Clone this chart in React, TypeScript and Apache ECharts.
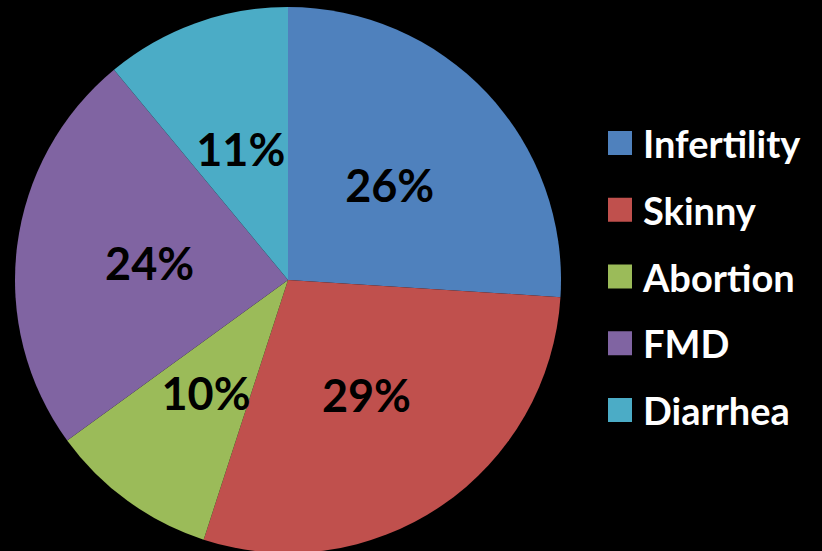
import React, { useEffect, useRef } from "react";
import * as echarts from "echarts";

const categories = ["Infertility", "Skinny", "Abortion", "FMD", "Diarrhea"];
const values = [26, 29, 10, 24, 11];
const colors = ["#4F81BD", "#C0504D", "#9BBB59", "#8064A2", "#4BACC6"];

export default function App() {
  const ref = useRef<HTMLDivElement>(null);
  useEffect(() => {
    document.body.style.margin = "0";
    document.body.style.background = "#000";
    const chart = echarts.init(ref.current!, null, { renderer: "svg" });
    chart.setOption({
      animation: false,
      backgroundColor: "#000000",
      color: colors,
      legend: {
        orient: "vertical",
        left: 608,
        top: 124,
        padding: 0,
        itemWidth: 24,
        itemHeight: 24,
        itemGap: 28.75,
        icon: "rect",
        data: categories,
        textStyle: {
          color: "#ffffff",
          fontFamily: "Lato",
          fontWeight: "bold",
          fontSize: 38,
          lineHeight: 38,
          padding: [0, 0, 0, 6],
        },
      },
      series: [
        {
          type: "pie",
          center: [288, 280],
          radius: [0, 273],
          startAngle: 90,
          clockwise: true,
          itemStyle: { borderWidth: 0 },
          label: {
            show: true,
            position: "inside",
            formatter: "{d}%",
            color: "#000000",
            fontFamily: "Lato",
            fontWeight: "bold",
            fontSize: 45,
          },
          labelLine: { show: false },
          emphasis: { disabled: true },
          data: categories.map((name, i) => ({ name, value: values[i] })),
        },
      ],
    });
    return () => chart.dispose();
  }, []);
  return <div ref={ref} style={{ width: 822, height: 551 }} />;
}
